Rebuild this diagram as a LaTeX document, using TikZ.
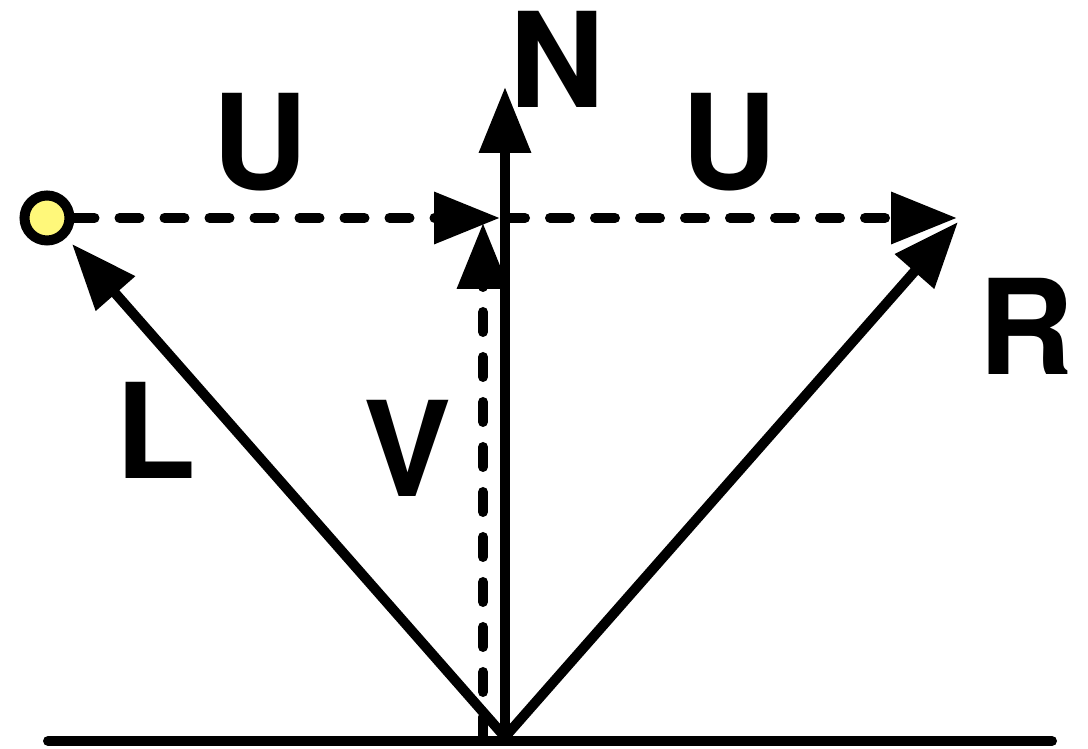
\documentclass[tikz,border=0pt]{standalone}
\usepackage{fontspec}
\setmainfont{TeX Gyre Heros}
\usetikzlibrary{arrows.meta}

\definecolor{lightyellow}{HTML}{FFF87A}

\begin{document}
\begin{tikzpicture}[x=1pt,y=1pt,
  vec/.style={line width=10pt,line cap=round,
    -{Triangle[length=66pt,width=50pt]}},
  dashvec/.style={vec,dash pattern=on 20pt off 25pt},
  lbl/.style={font=\fontsize{132}{132}\selectfont\bfseries,inner sep=0pt}]

\useasboundingbox (0,0) rectangle (1088,749);

% Points
\coordinate (O) at (505,12);
\coordinate (Ntip) at (505,662);
\coordinate (H) at (500,531);
\coordinate (Utip) at (957,531);
\coordinate (Ltip) at (72,505);
\coordinate (Rtip) at (958,527);
\coordinate (Vbot) at (483,12);
\coordinate (Vtip) at (483,526);
\coordinate (G1) at (48,8);
\coordinate (G2) at (1052,8);

% Surface
\draw[line width=10pt,line cap=round] (G1) -- (G2);

% Light
\node[circle,draw,line width=10pt,fill=lightyellow,
  minimum size=45pt,inner sep=0pt] (light) at (47,531) {};

% Vectors
\draw[dashvec] (light) -- (H);
\draw[dashvec] (505,531) -- (Utip);
\draw[dashvec] (Vbot) -- (Vtip);
\draw[vec] (O) -- (Ntip);
\draw[vec] (O) -- (Ltip);
\draw[vec] (O) -- (Rtip);

% Labels
\node[lbl] (labN) at (557,690) {N};
\node[lbl] (labU1) at (260,607) {U};
\node[lbl] (labU2) at (729,607) {U};
\node[lbl] (labL) at (156,319) {L};
\node[lbl] (labV) at (408,301) {V};
\node[lbl] (labR) at (1026,423) {R};

\end{tikzpicture}
\end{document}
